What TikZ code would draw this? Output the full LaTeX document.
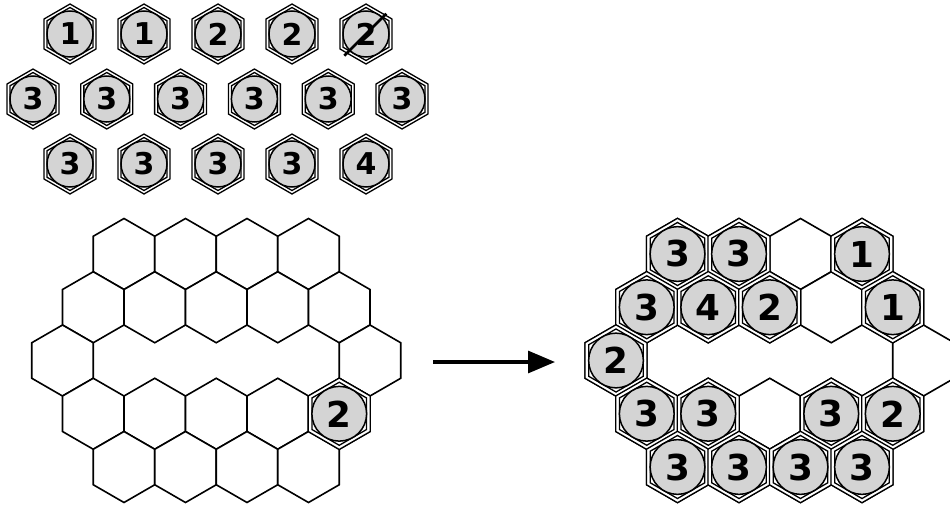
\documentclass[tikz,border=0pt]{standalone}
\usepackage{fontspec}
\newfontfamily\tilefont{DejaVu Sans}
\usetikzlibrary{shapes.geometric}
\usetikzlibrary{arrows.meta}

\definecolor{discgray}{gray}{0.83}

\newcommand\hextile[4][1]{%
    \node[tilehex, scale=#1, minimum size=60pt] (#2) at (#3) {};
    \node[tilehex, scale=#1, minimum size=53pt] (#2-in) at (#2) {};
    \node[tiledisc, scale=#1] (#2-d) at (#2) {#4};
}

\begin{document}
\begin{tikzpicture}[x=1pt, y=-1pt,
    hexcell/.style={draw, line width=1.6pt, fill=white, regular polygon, regular polygon sides=6,
        shape border rotate=30, inner sep=0pt, outer sep=0pt, minimum size=71pt},
    tilehex/.style={draw, line width=1.3pt, fill=white, regular polygon, regular polygon sides=6,
        shape border rotate=30, inner sep=0pt, outer sep=0pt},
    tiledisc/.style={circle, draw, line width=1.5pt, fill=discgray, inner sep=0pt, minimum size=46pt,
        font=\tilefont\bfseries\fontsize{30}{30}\selectfont}]
    \useasboundingbox (0,0) rectangle (950,506);

    % loose tiles
    \foreach \n [count=\i from 0] in {1,1,2,2,2}
        \hextile{loose-1-\i}{70+74*\i,34}{\n};
    \foreach \i in {0,...,5}
        \hextile{loose-2-\i}{33+73.8*\i,99}{3};
    \foreach \n [count=\i from 0] in {3,3,3,3,4}
        \hextile{loose-3-\i}{70+74*\i,164}{\n};
    \draw[line width=2.6pt, shorten <=-7pt, shorten >=-5pt] (loose-1-4-d.south west) -- (loose-1-4-d.north east);

    % boards
    \foreach \board/\xo in {a/62.5, b/616}
        \foreach \r/\cols in {0/{2,4,6,8}, 1/{1,3,5,7,9}, 2/{0,10}, 3/{1,3,5,7,9}, 4/{2,4,6,8}}
            \foreach \c in \cols
                \node[hexcell] (\board-\r-\c) at (\xo+30.75*\c, 254+53.25*\r) {};

    \hextile[1.19]{a-3-9-t}{a-3-9}{2}

    \foreach \r/\c/\n in {0/2/3, 0/4/3, 0/8/1, 1/1/3, 1/3/4, 1/5/2, 1/9/1, 2/0/2,
                          3/1/3, 3/3/3, 3/7/3, 3/9/2, 4/2/3, 4/4/3, 4/6/3, 4/8/3}
        \hextile[1.19]{b-\r-\c-t}{b-\r-\c}{\n};

    \coordinate (from) at (433,362);
    \coordinate (to) at (555,362);
    \draw[line width=3.2pt, -{Triangle[length=27pt, width=22pt]}] (from) -- (to);
\end{tikzpicture}
\end{document}
